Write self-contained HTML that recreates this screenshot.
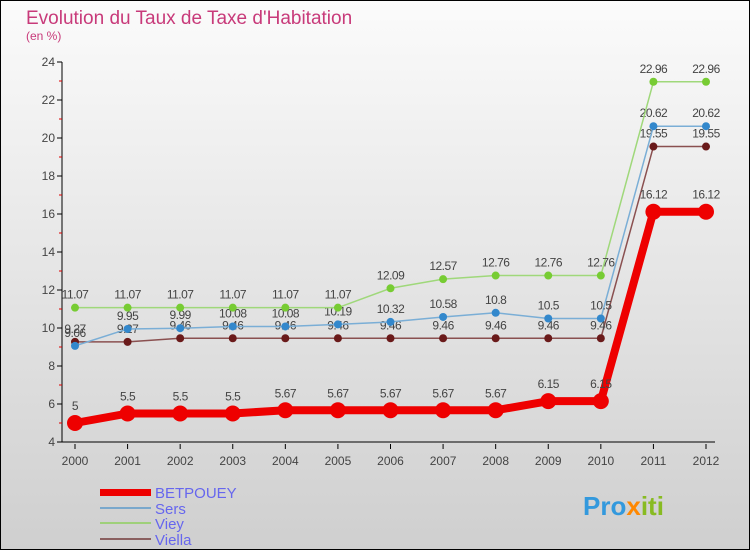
<!DOCTYPE html>
<html><head><meta charset="utf-8"><style>
body{margin:0;width:750px;height:550px;overflow:hidden;font-family:"Liberation Sans",sans-serif}
svg{display:block}
</style></head><body>
<svg width="750" height="550" xmlns="http://www.w3.org/2000/svg">
<defs><linearGradient id="bg" x1="0" y1="0" x2="0" y2="1"><stop offset="0" stop-color="#fbfbfb"/><stop offset="1" stop-color="#cfcfcf"/></linearGradient></defs>
<rect x="0.5" y="0.5" width="749" height="549" fill="url(#bg)" stroke="#000"/>
<text x="26" y="24" font-size="19" fill="#c83a7a">Evolution du Taux de Taxe d'Habitation</text>
<text x="26" y="40" font-size="12" fill="#c83a7a">(en %)</text>
<g id="axes"></g><g id="series"></g>
<g>
<rect x="100" y="489" width="51" height="7" fill="#e00"/>
<text x="155" y="498" font-size="15" fill="#6666ee">BETPOUEY</text>
<rect x="100" y="507" width="51" height="2" fill="#7aa8cc"/>
<text x="155" y="514" font-size="15" fill="#6666ee">Sers</text>
<rect x="100" y="522" width="51" height="2" fill="#9fd07a"/>
<text x="155" y="529" font-size="15" fill="#6666ee">Viey</text>
<rect x="100" y="538" width="51" height="2" fill="#8a6060"/>
<text x="155" y="545" font-size="15" fill="#6666ee">Viella</text>
</g>
<text x="583" y="515" font-size="26" font-weight="bold" fill="#3399dd">Pro<tspan fill="#ff8800">x</tspan><tspan fill="#88bb22">iti</tspan></text>
</svg>
<script>
const years=[2000,2001,2002,2003,2004,2005,2006,2007,2008,2009,2010,2011,2012];
const betpouey=[5,5.5,5.5,5.5,5.67,5.67,5.67,5.67,5.67,6.15,6.15,16.12,16.12];
const sers=[9.06,9.95,9.99,10.08,10.08,10.19,10.32,10.58,10.8,10.5,10.5,20.62,20.62];
const viey=[11.07,11.07,11.07,11.07,11.07,11.07,12.09,12.57,12.76,12.76,12.76,22.96,22.96];
const viella=[9.27,9.27,9.46,9.46,9.46,9.46,9.46,9.46,9.46,9.46,9.46,19.55,19.55];
const yTicks=[4,6,8,10,12,14,16,18,20,22,24];
const NS="http://www.w3.org/2000/svg";
const X=i=>75+i*(706-75)/(years.length-1);
const Y=v=>442-(v-4)*19;
function mk(t,a,p){const e=document.createElementNS(NS,t);for(const k in a)e.setAttribute(k,a[k]);p.appendChild(e);return e;}
const ax=document.getElementById('axes');
const yl=mk('line',{x1:62,y1:Y(24),x2:62,y2:Y(4),stroke:'#000'},ax);


yTicks.forEach(v=>{
 mk('line',{x1:57,x2:62,y1:Y(v),y2:Y(v),stroke:'#000'},ax);
 if(v<24) mk('line',{x1:59,x2:62,y1:Y(v+1),y2:Y(v+1),stroke:'#d00'},ax);
 const t=mk('text',{x:55,y:Y(v)+4,'font-size':12,fill:'#444','text-anchor':'end'},ax);t.textContent=v;
 
 
});
const xl=mk('line',{x1:62,y1:Y(4),x2:715,y2:Y(4),stroke:'#000'},ax);


years.forEach((y,i)=>{
 mk('line',{x1:X(i),x2:X(i),y1:Y(4)+2,y2:Y(4)+7,stroke:'#000'},ax);
 const t=mk('text',{x:X(i),y:465,'font-size':12,fill:'#444','text-anchor':'middle'},ax);t.textContent=y;
 
 
});
const sg=document.getElementById('series');
function draw(vals,color,dot,w,r,name){
 const g=mk('g',{},sg);
 
 
 mk('polyline',{points:vals.map((v,i)=>X(i)+','+Y(v)).join(' '),fill:'none',stroke:color,'stroke-width':w,'stroke-linejoin':'round'},g);
 vals.forEach((v,i)=>{
  const c=mk('circle',{cx:X(i),cy:Y(v),r:r,fill:dot},g);
  
  
  const t=mk('text',{x:X(i),y:Y(v)-(r+5),'font-size':12,fill:'#444','text-anchor':'middle','letter-spacing':'-0.5'},g);
  t.textContent=v;
  
  
 });
}
draw(viella,'#8a5050','#6a1a1a',1.5,4,'viella');
draw(sers,'#7aaed6','#3388cc',1.5,4,'sers');
draw(viey,'#9fd87a','#77cc33',1.5,4,'viey');
draw(betpouey,'#ee0000','#ee0000',8,8,'betpouey');
</script>
</body></html>
